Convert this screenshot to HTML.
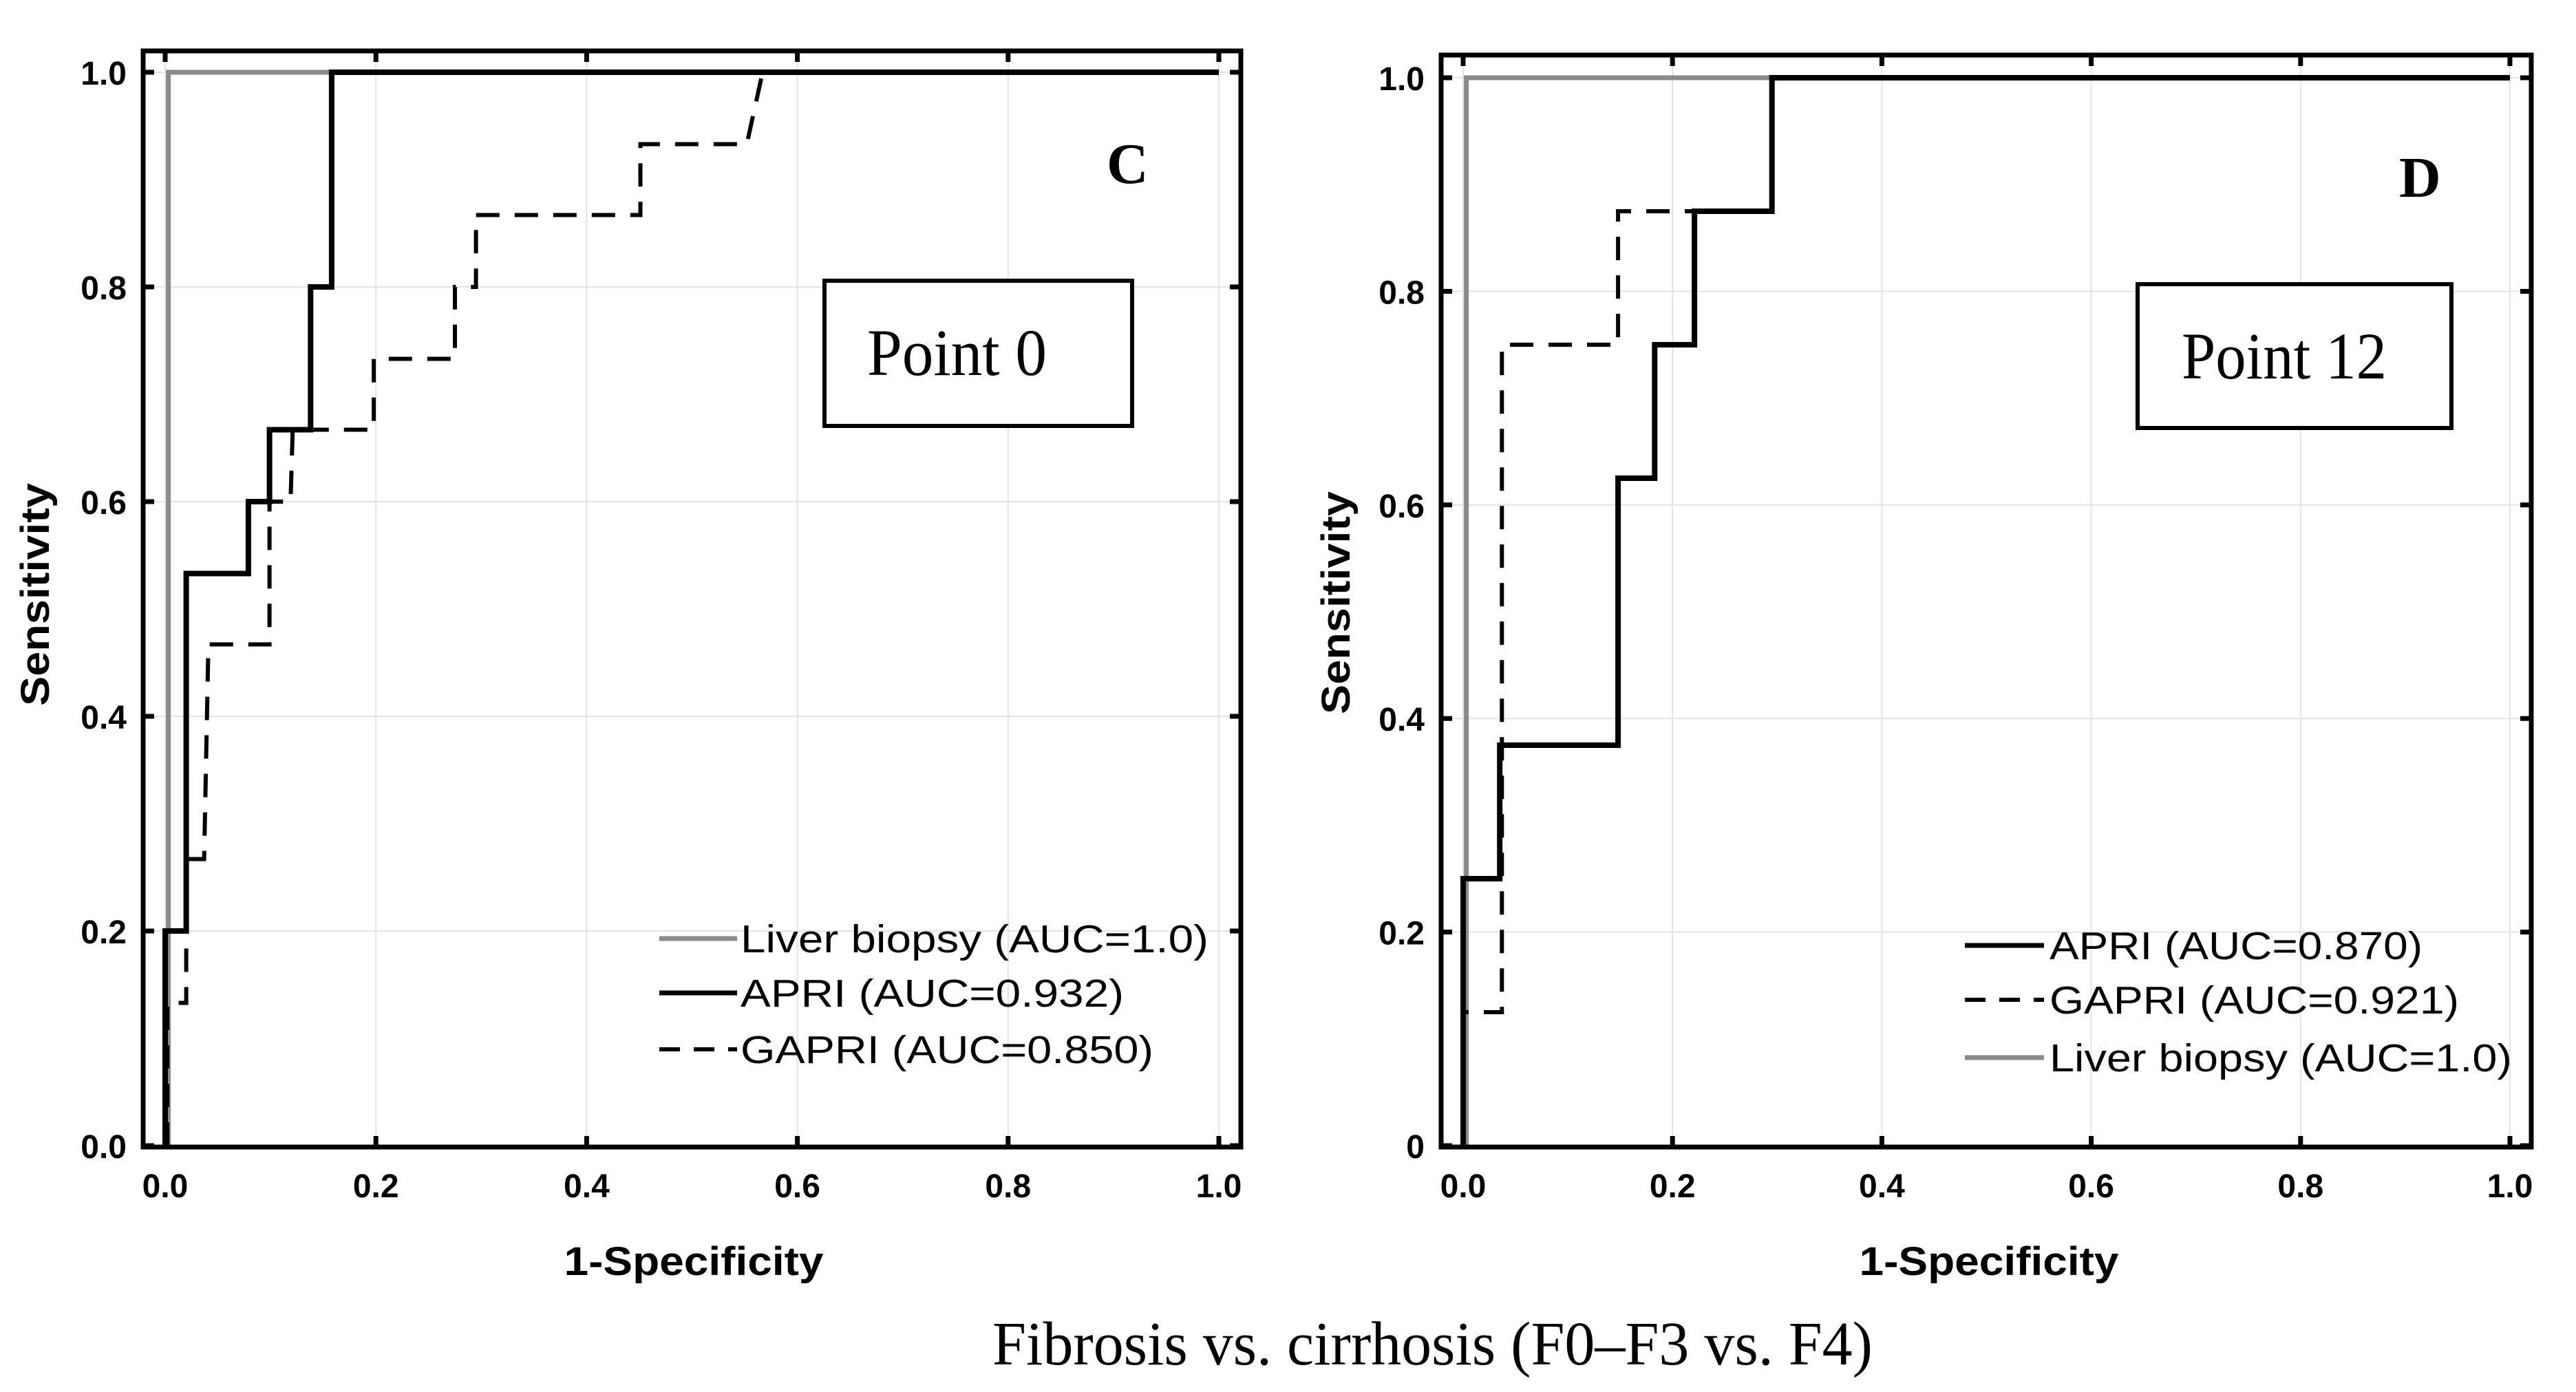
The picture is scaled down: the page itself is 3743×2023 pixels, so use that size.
<!DOCTYPE html>
<html><head><meta charset="utf-8"><style>
html,body{margin:0;padding:0;background:#fff;}
svg{display:block;}
text{font-family:"Liberation Sans",Arial,sans-serif;}
.serif{font-family:"Liberation Serif","Times New Roman",serif;}
</style></head><body>
<svg id="fig" width="3743" height="2023" viewBox="0 0 3743 2023" xmlns="http://www.w3.org/2000/svg">
<text class="serif" x="1442" y="1983" font-size="90" textLength="1279" lengthAdjust="spacingAndGlyphs">Fibrosis vs. cirrhosis (F0–F3 vs. F4)</text>
</svg>
<script>
// ---- Panel C data ----
const cAprX = [0, 0, 0.02, 0.02, 0.079, 0.079, 0.099, 0.099, 0.138, 0.138, 0.158, 0.158, 1];
const cAprY = [0, 0.2, 0.2, 0.533, 0.533, 0.6, 0.6, 0.667, 0.667, 0.8, 0.8, 1, 1];
const cGapX = [0.002, 0.002, 0.02, 0.02, 0.037, 0.041, 0.099, 0.099, 0.119, 0.121, 0.198, 0.198, 0.275, 0.275, 0.295, 0.295, 0.451, 0.451, 0.552, 0.567, 1];
const cGapY = [0, 0.133, 0.133, 0.267, 0.267, 0.467, 0.467, 0.6, 0.6, 0.667, 0.667, 0.733, 0.733, 0.8, 0.8, 0.867, 0.867, 0.933, 0.933, 1, 1];
const cBioX = [0.003, 0.003, 1];
const cBioY = [0, 1, 1];
// ---- Panel D data ----
const dAprX = [0, 0, 0.035, 0.035, 0.148, 0.148, 0.183, 0.183, 0.221, 0.221, 0.295, 0.295, 1];
const dAprY = [0, 0.25, 0.25, 0.375, 0.375, 0.625, 0.625, 0.75, 0.75, 0.875, 0.875, 1, 1];
const dGapX = [0, 0, 0.037, 0.037, 0.148, 0.148, 0.221, 0.221, 0.295, 0.295, 1];
const dGapY = [0, 0.125, 0.125, 0.75, 0.75, 0.875, 0.875, 0.875, 0.875, 1, 1];
const dBioX = [0.003, 0.003, 1];
const dBioY = [0, 1, 1];
// ---- ticks ----
const xTicks = [0, 0.2, 0.4, 0.6, 0.8, 1.0];
const xTickLabels = ["0.0", "0.2", "0.4", "0.6", "0.8", "1.0"];
const yTicks = [0, 0.2, 0.4, 0.6, 0.8, 1.0];
const cYTickLabels = ["0.0", "0.2", "0.4", "0.6", "0.8", "1.0"];
const dYTickLabels = ["0", "0.2", "0.4", "0.6", "0.8", "1.0"];

const NS = "http://www.w3.org/2000/svg";
const svg = document.getElementById('fig');
function mk(tag, attrs, parent) {
  const e = document.createElementNS(NS, tag);
  for (const k in attrs) e.setAttribute(k, attrs[k]);
  (parent || svg).appendChild(e);
  return e;
}

function panel(p) {
  const g = mk('g', {});
  
  
  const sx = v => p.x0 + v * (p.x1 - p.x0);
  const sy = v => p.y0 - v * (p.y0 - p.y1);
  xTicks.forEach(t => {
    const l = mk('line', {x1: sx(t), x2: sx(t), y1: p.fy0, y2: p.fy1, stroke: '#e3e3e3', 'stroke-width': 2}, g);
    
    
  });
  yTicks.forEach(t => {
    const l = mk('line', {x1: p.fx0, x2: p.fx1, y1: sy(t), y2: sy(t), stroke: '#e3e3e3', 'stroke-width': 2}, g);
    
    
  });
  function series(xs, ys, name, color, w, dash) {
    let d = '';
    xs.forEach((x, i) => { d += (i ? 'L' : 'M') + sx(x).toFixed(1) + ' ' + sy(ys[i]).toFixed(1); });
    const a = {d: d, fill: 'none', stroke: color, 'stroke-width': w, 'stroke-linejoin': 'miter'};
    if (dash) a['stroke-dasharray'] = dash;
    const e = mk('path', a, g);
    
    
  }
  series(p.bioX, p.bioY, 'liver-biopsy-curve', '#8a8a8a', 7, null);
  series(p.gapX, p.gapY, 'gapri-curve', '#000', 6, '34 22');
  series(p.aprX, p.aprY, 'apri-curve', '#000', 8, null);
  const f = mk('rect', {x: p.fx0, y: p.fy0, width: p.fx1 - p.fx0, height: p.fy1 - p.fy0, fill: 'none', stroke: '#000', 'stroke-width': 7}, g);
  
  
  xTicks.forEach((t, i) => {
    mk('line', {x1: sx(t), x2: sx(t), y1: p.fy1, y2: p.fy1 - 16, stroke: '#000', 'stroke-width': 7}, g);
    mk('line', {x1: sx(t), x2: sx(t), y1: p.fy0, y2: p.fy0 + 16, stroke: '#000', 'stroke-width': 7}, g);
    const tx = mk('text', {x: sx(t), y: 1740, 'font-size': 48, 'font-weight': 'bold', 'text-anchor': 'middle'}, g);
    tx.textContent = xTickLabels[i];
    
    
  });
  yTicks.forEach((t, i) => {
    mk('line', {x1: p.fx0, x2: p.fx0 + 16, y1: sy(t), y2: sy(t), stroke: '#000', 'stroke-width': 7}, g);
    mk('line', {x1: p.fx1, x2: p.fx1 - 16, y1: sy(t), y2: sy(t), stroke: '#000', 'stroke-width': 7}, g);
    const tx = mk('text', {x: p.fx0 - 24, y: sy(t) + 18, 'font-size': 48, 'font-weight': 'bold', 'text-anchor': 'end'}, g);
    tx.textContent = p.yLabels[i];
    
    
  });
  const xt = mk('text', {x: p.xtX, y: 1853, 'font-size': 58, 'font-weight': 'bold', 'text-anchor': 'middle', textLength: 377, lengthAdjust: 'spacingAndGlyphs'}, g);
  xt.textContent = '1-Specificity';
  
  
  const yt = mk('text', {x: 0, y: 0, 'font-size': 58, 'font-weight': 'bold', 'text-anchor': 'middle', textLength: 324, lengthAdjust: 'spacingAndGlyphs', transform: 'translate(' + (p.ytX + 20) + ',' + p.ytY + ') rotate(-90)'}, g);
  yt.textContent = 'Sensitivity';
  
  
  const L = mk('text', {x: p.letterX, y: p.letterY, 'font-size': 84, 'font-weight': 'bold', class: 'serif'}, g);
  L.textContent = p.letter;
  
  
  const bx = mk('rect', {x: p.box[0], y: p.box[1], width: p.box[2], height: p.box[3], fill: '#fff', stroke: '#000', 'stroke-width': 6}, g);
  
  
  const bt = mk('text', {x: p.boxText[0], y: p.boxText[1], 'font-size': 96, class: 'serif', textLength: p.boxText[2], lengthAdjust: 'spacingAndGlyphs'}, g);
  bt.textContent = p.boxLabel;
  
  
  p.legend.forEach(it => {
    const a = {x1: p.legX0, x2: p.legX1, y1: it.y - 20, y2: it.y - 20, stroke: it.color, 'stroke-width': it.w};
    if (it.dash) a['stroke-dasharray'] = it.dash;
    const ln = mk('line', a, g);
    
    
    const t = mk('text', {x: p.legTX, y: it.y, 'font-size': 57, textLength: it.len, lengthAdjust: 'spacingAndGlyphs'}, g);
    t.textContent = it.label;
    
    
  });
}

panel({id: 'c', x0: 240, x1: 1771, y0: 1665, y1: 105, fx0: 208, fx1: 1803, fy0: 74, fy1: 1667,
  aprX: cAprX, aprY: cAprY, gapX: cGapX, gapY: cGapY, bioX: cBioX, bioY: cBioY, yLabels: cYTickLabels,
  xtX: 1008, ytX: 51, ytY: 864, letter: 'C', letterX: 1608, letterY: 266,
  box: [1198, 408, 447, 211], boxText: [1260, 545, 261], boxLabel: 'Point 0',
  legX0: 958, legX1: 1071, legTX: 1076,
  legend: [
    {label: 'Liver biopsy (AUC=1.0)', y: 1384, len: 680, color: '#8a8a8a', w: 7},
    {label: 'APRI (AUC=0.932)', y: 1463, len: 557, color: '#000', w: 7},
    {label: 'GAPRI (AUC=0.850)', y: 1545, len: 600, color: '#000', w: 6, dash: '30 20'}
  ]});

panel({id: 'd', x0: 2126, x1: 3647, y0: 1665, y1: 113, fx0: 2094, fx1: 3678, fy0: 80, fy1: 1667,
  aprX: dAprX, aprY: dAprY, gapX: dGapX, gapY: dGapY, bioX: dBioX, bioY: dBioY, yLabels: dYTickLabels,
  xtX: 2890, ytX: 1941, ytY: 876, letter: 'D', letterX: 3486, letterY: 286,
  box: [3106, 413, 456, 209], boxText: [3170, 550, 298], boxLabel: 'Point 12',
  legX0: 2855, legX1: 2970, legTX: 2978,
  legend: [
    {label: 'APRI (AUC=0.870)', y: 1394, len: 542, color: '#000', w: 7},
    {label: 'GAPRI (AUC=0.921)', y: 1473, len: 595, color: '#000', w: 6, dash: '30 20'},
    {label: 'Liver biopsy (AUC=1.0)', y: 1557, len: 672, color: '#8a8a8a', w: 7}
  ]});
</script>
</body></html>
